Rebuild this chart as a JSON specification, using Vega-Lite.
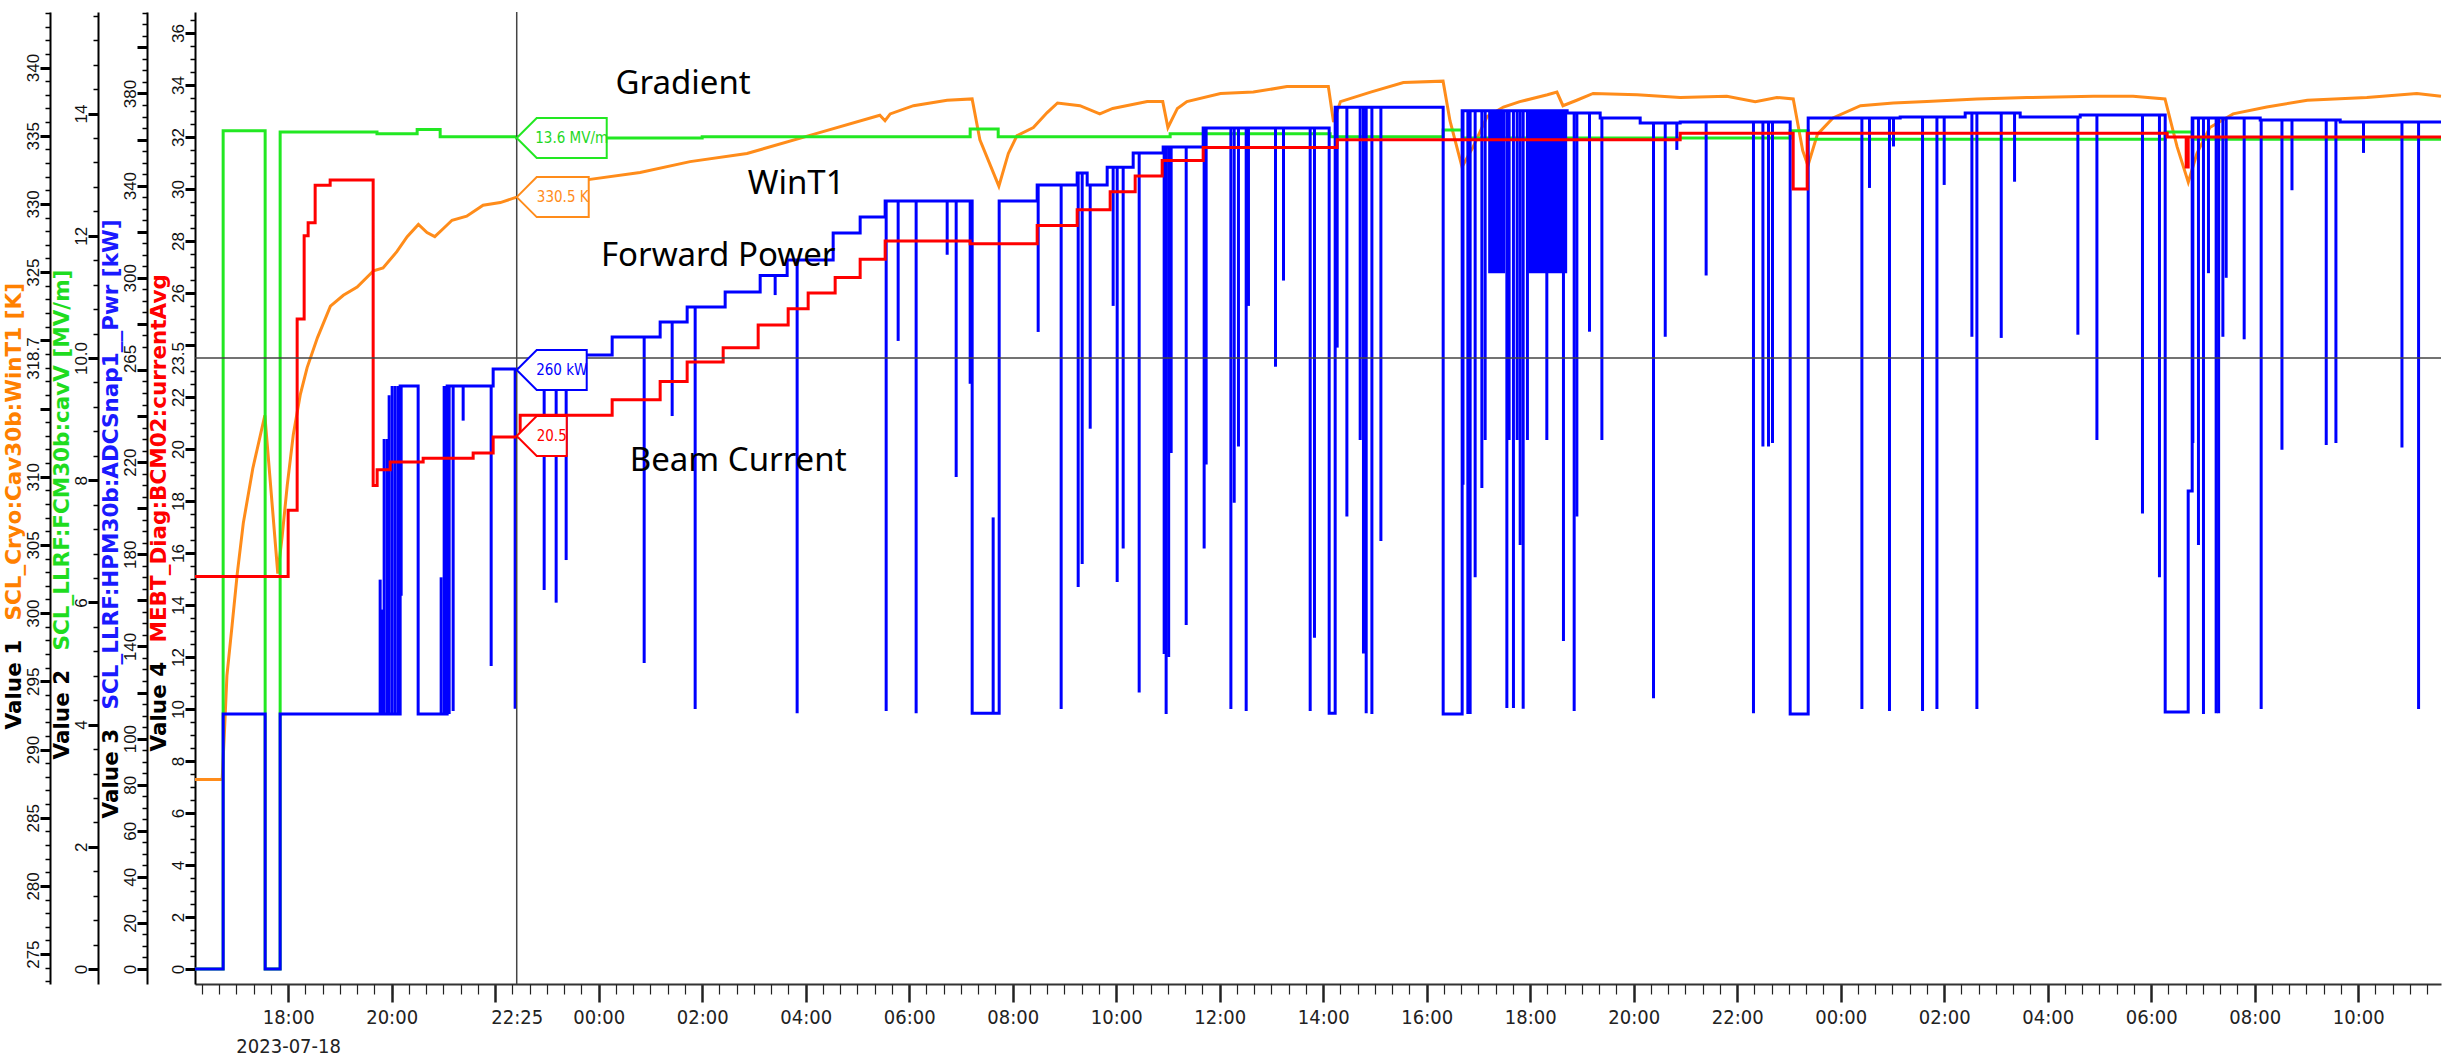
{
"$schema": "https://vega.github.io/schema/vega-lite/v6.json",
"width": 2246, "height": 972,
"autosize": {"type": "none"},
"padding": {"left": 195, "top": 12, "right": 17, "bottom": 76},
"background": "white",
"config": {
 "view": {"stroke": null},
 "axis": {"grid": false, "labelFont": "Liberation Sans", "labelFontSize": 17, "labelColor": "#111", "titleFont": "DejaVu Sans", "titleFontSize": 21.5, "titleFontWeight": "bold", "domainColor": "#000", "domainWidth": 2, "tickColor": "#000", "labelOverlap": false, "labelFlush": false}
},
"datasets": {
 "wint1": [
{"t":"2023-07-18T16:12:00Z","v":287.8},{"t":"2023-07-18T16:43:30Z","v":287.8},{"t":"2023-07-18T16:46:00Z","v":291.1},{"t":"2023-07-18T16:49:00Z","v":295.4},{"t":"2023-07-18T16:55:00Z","v":299.1},{"t":"2023-07-18T17:01:00Z","v":302.9},{"t":"2023-07-18T17:08:00Z","v":306.6},{"t":"2023-07-18T17:19:00Z","v":310.6},{"t":"2023-07-18T17:33:00Z","v":314.5},{"t":"2023-07-18T17:48:00Z","v":302.9},{"t":"2023-07-18T17:53:00Z","v":305.6},{"t":"2023-07-18T17:59:00Z","v":309.4},{"t":"2023-07-18T18:06:00Z","v":313.1},{"t":"2023-07-18T18:14:00Z","v":316.0},{"t":"2023-07-18T18:22:00Z","v":318.0},{"t":"2023-07-18T18:34:00Z","v":320.2},{"t":"2023-07-18T18:49:00Z","v":322.5},{"t":"2023-07-18T19:04:00Z","v":323.3},{"t":"2023-07-18T19:20:00Z","v":323.9},{"t":"2023-07-18T19:39:00Z","v":325.1},{"t":"2023-07-18T19:50:00Z","v":325.3},{"t":"2023-07-18T20:06:00Z","v":326.5},{"t":"2023-07-18T20:18:00Z","v":327.6},{"t":"2023-07-18T20:31:00Z","v":328.5},{"t":"2023-07-18T20:41:00Z","v":327.9},{"t":"2023-07-18T20:50:00Z","v":327.6},{"t":"2023-07-18T21:00:00Z","v":328.2},{"t":"2023-07-18T21:10:00Z","v":328.8},{"t":"2023-07-18T21:27:00Z","v":329.1},{"t":"2023-07-18T21:46:00Z","v":329.9},{"t":"2023-07-18T22:06:00Z","v":330.1},{"t":"2023-07-18T22:25:00Z","v":330.5},{"t":"2023-07-18T23:50:00Z","v":331.8},{"t":"2023-07-19T00:48:00Z","v":332.3},{"t":"2023-07-19T01:46:00Z","v":333.1},{"t":"2023-07-19T02:52:00Z","v":333.7},{"t":"2023-07-19T04:09:00Z","v":335.1},{"t":"2023-07-19T05:26:00Z","v":336.5},{"t":"2023-07-19T05:32:00Z","v":336.1},{"t":"2023-07-19T05:38:00Z","v":336.6},{"t":"2023-07-19T06:05:00Z","v":337.2},{"t":"2023-07-19T06:44:00Z","v":337.6},{"t":"2023-07-19T07:13:00Z","v":337.7},{"t":"2023-07-19T07:22:00Z","v":334.7},{"t":"2023-07-19T07:44:00Z","v":331.3},{"t":"2023-07-19T07:55:00Z","v":333.7},{"t":"2023-07-19T08:05:00Z","v":335.0},{"t":"2023-07-19T08:24:00Z","v":335.6},{"t":"2023-07-19T08:40:00Z","v":336.7},{"t":"2023-07-19T08:52:00Z","v":337.4},{"t":"2023-07-19T09:18:00Z","v":337.2},{"t":"2023-07-19T09:41:00Z","v":336.6},{"t":"2023-07-19T09:56:00Z","v":337.0},{"t":"2023-07-19T10:36:00Z","v":337.5},{"t":"2023-07-19T10:54:00Z","v":337.5},{"t":"2023-07-19T11:00:00Z","v":335.6},{"t":"2023-07-19T11:11:00Z","v":337.0},{"t":"2023-07-19T11:22:00Z","v":337.5},{"t":"2023-07-19T12:01:00Z","v":338.1},{"t":"2023-07-19T12:39:00Z","v":338.2},{"t":"2023-07-19T13:18:00Z","v":338.6},{"t":"2023-07-19T14:06:00Z","v":338.6},{"t":"2023-07-19T14:12:00Z","v":336.0},{"t":"2023-07-19T14:20:00Z","v":337.5},{"t":"2023-07-19T14:55:00Z","v":338.2},{"t":"2023-07-19T15:33:00Z","v":338.9},{"t":"2023-07-19T16:19:00Z","v":339.0},{"t":"2023-07-19T16:27:00Z","v":336.1},{"t":"2023-07-19T16:41:00Z","v":332.7},{"t":"2023-07-19T16:54:00Z","v":334.2},{"t":"2023-07-19T17:10:00Z","v":336.4},{"t":"2023-07-19T17:29:00Z","v":337.1},{"t":"2023-07-19T17:48:00Z","v":337.5},{"t":"2023-07-19T18:20:00Z","v":338.0},{"t":"2023-07-19T18:31:00Z","v":338.2},{"t":"2023-07-19T18:38:00Z","v":337.2},{"t":"2023-07-19T18:54:00Z","v":337.6},{"t":"2023-07-19T19:13:00Z","v":338.1},{"t":"2023-07-19T20:04:00Z","v":338.0},{"t":"2023-07-19T20:54:00Z","v":337.8},{"t":"2023-07-19T21:48:00Z","v":337.9},{"t":"2023-07-19T22:21:00Z","v":337.5},{"t":"2023-07-19T22:46:00Z","v":337.8},{"t":"2023-07-19T23:05:00Z","v":337.7},{"t":"2023-07-19T23:16:00Z","v":333.9},{"t":"2023-07-19T23:22:00Z","v":332.8},{"t":"2023-07-19T23:33:00Z","v":335.1},{"t":"2023-07-19T23:51:00Z","v":336.3},{"t":"2023-07-20T00:23:00Z","v":337.2},{"t":"2023-07-20T01:01:00Z","v":337.4},{"t":"2023-07-20T01:40:00Z","v":337.5},{"t":"2023-07-20T02:38:00Z","v":337.7},{"t":"2023-07-20T03:36:00Z","v":337.8},{"t":"2023-07-20T04:53:00Z","v":337.9},{"t":"2023-07-20T05:39:00Z","v":337.9},{"t":"2023-07-20T06:16:00Z","v":337.7},{"t":"2023-07-20T06:30:00Z","v":334.2},{"t":"2023-07-20T06:43:00Z","v":331.6},{"t":"2023-07-20T06:53:00Z","v":333.7},{"t":"2023-07-20T07:08:00Z","v":335.6},{"t":"2023-07-20T07:35:00Z","v":336.6},{"t":"2023-07-20T08:14:00Z","v":337.1},{"t":"2023-07-20T09:01:00Z","v":337.6},{"t":"2023-07-20T10:10:00Z","v":337.8},{"t":"2023-07-20T11:08:00Z","v":338.1},{"t":"2023-07-20T11:36:00Z","v":337.9}
 ],
 "cavv": [
{"t":"2023-07-18T16:12:00Z","v":0},{"t":"2023-07-18T16:44:38Z","v":13.72},{"t":"2023-07-18T17:33:20Z","v":0},{"t":"2023-07-18T17:50:43Z","v":13.7},{"t":"2023-07-18T19:43:00Z","v":13.67},{"t":"2023-07-18T20:29:34Z","v":13.74},{"t":"2023-07-18T20:56:14Z","v":13.62},{"t":"2023-07-18T22:25:00Z","v":13.6},{"t":"2023-07-19T02:00:00Z","v":13.62},{"t":"2023-07-19T07:10:43Z","v":13.75},{"t":"2023-07-19T07:43:13Z","v":13.62},{"t":"2023-07-19T11:02:34Z","v":13.67},{"t":"2023-07-19T14:08:06Z","v":13.62},{"t":"2023-07-19T16:19:07Z","v":13.73},{"t":"2023-07-19T16:41:09Z","v":13.6},{"t":"2023-07-19T23:01:26Z","v":13.72},{"t":"2023-07-19T23:22:19Z","v":13.58},{"t":"2023-07-20T06:16:14Z","v":13.7},{"t":"2023-07-20T06:47:32Z","v":13.58},{"t":"2023-07-20T11:36:00Z","v":13.58}
 ],
 "pwr": [
{"t":"2023-07-18T16:12:00Z","v":0},{"t":"2023-07-18T16:44:38Z","v":110.7},{"t":"2023-07-18T17:33:20Z","v":0},{"t":"2023-07-18T17:50:43Z","v":110.7},{"t":"2023-07-18T20:09:51Z","v":253},{"t":"2023-07-18T20:30:43Z","v":110.7},{"t":"2023-07-18T21:04:21Z","v":253},{"t":"2023-07-18T21:57:41Z","v":260.4},{"t":"2023-07-18T23:15:22Z","v":266.5},{"t":"2023-07-19T00:15:39Z","v":274.3},{"t":"2023-07-19T01:11:18Z","v":280.8},{"t":"2023-07-19T01:42:36Z","v":287.3},{"t":"2023-07-19T02:26:40Z","v":293.8},{"t":"2023-07-19T03:07:15Z","v":301},{"t":"2023-07-19T03:38:33Z","v":307.7},{"t":"2023-07-19T04:31:53Z","v":319.4},{"t":"2023-07-19T05:03:11Z","v":326.4},{"t":"2023-07-19T05:32:10Z","v":333.3},{"t":"2023-07-19T07:13:02Z","v":111},{"t":"2023-07-19T07:44:21Z","v":333.3},{"t":"2023-07-19T08:28:25Z","v":340.3},{"t":"2023-07-19T09:14:47Z","v":345.5},{"t":"2023-07-19T09:26:23Z","v":340.3},{"t":"2023-07-19T09:49:34Z","v":348},{"t":"2023-07-19T10:19:43Z","v":354.2},{"t":"2023-07-19T10:54:29Z","v":356.8},{"t":"2023-07-19T11:40:52Z","v":365},{"t":"2023-07-19T14:06:57Z","v":111},{"t":"2023-07-19T14:13:55Z","v":374},{"t":"2023-07-19T16:19:07Z","v":110.7},{"t":"2023-07-19T16:41:09Z","v":372.5},{"t":"2023-07-19T18:42:53Z","v":371.5},{"t":"2023-07-19T19:21:09Z","v":369.4},{"t":"2023-07-19T20:07:32Z","v":367.2},{"t":"2023-07-19T20:53:55Z","v":367.6},{"t":"2023-07-19T23:01:26Z","v":110.7},{"t":"2023-07-19T23:22:19Z","v":369.4},{"t":"2023-07-20T01:08:59Z","v":369.8},{"t":"2023-07-20T02:24:21Z","v":371.5},{"t":"2023-07-20T03:28:07Z","v":369.8},{"t":"2023-07-20T04:37:41Z","v":370.7},{"t":"2023-07-20T06:16:14Z","v":111.5},{"t":"2023-07-20T06:42:54Z","v":207.5},{"t":"2023-07-20T06:47:32Z","v":369.4},{"t":"2023-07-20T08:06:23Z","v":368.5},{"t":"2023-07-20T09:39:08Z","v":367.6},{"t":"2023-07-20T11:36:00Z","v":367.6}
 ],
 "pwr_spikes": [
{"t":"2023-07-18T19:46:40Z","top":110.7,"bottom":169},{"t":"2023-07-18T19:49:00Z","top":110.7,"bottom":156},{"t":"2023-07-18T19:51:18Z","top":110.7,"bottom":230},{"t":"2023-07-18T19:54:47Z","top":110.7,"bottom":230},{"t":"2023-07-18T19:57:06Z","top":110.7,"bottom":249},{"t":"2023-07-18T20:00:35Z","top":110.7,"bottom":253},{"t":"2023-07-18T20:04:04Z","top":110.7,"bottom":253},{"t":"2023-07-18T20:07:32Z","top":110.7,"bottom":253},{"t":"2023-07-18T20:11:01Z","top":253,"bottom":162},{"t":"2023-07-18T20:57:23Z","top":110.7,"bottom":170},{"t":"2023-07-18T21:00:52Z","top":110.7,"bottom":253},{"t":"2023-07-18T21:03:11Z","top":110.7,"bottom":253},{"t":"2023-07-18T21:06:40Z","top":253,"bottom":110.7},{"t":"2023-07-18T21:11:18Z","top":253,"bottom":112},{"t":"2023-07-18T21:22:54Z","top":253,"bottom":238},{"t":"2023-07-18T21:55:22Z","top":253,"bottom":131.5},{"t":"2023-07-18T22:23:11Z","top":260.4,"bottom":113},{"t":"2023-07-18T22:56:49Z","top":260.4,"bottom":164.5},{"t":"2023-07-18T23:10:43Z","top":260.4,"bottom":159},{"t":"2023-07-18T23:22:19Z","top":266.5,"bottom":177.5},{"t":"2023-07-19T00:52:46Z","top":274.3,"bottom":132.8},{"t":"2023-07-19T01:25:13Z","top":280.8,"bottom":240},{"t":"2023-07-19T01:51:53Z","top":287.3,"bottom":112.8},{"t":"2023-07-19T03:24:38Z","top":301,"bottom":292.5},{"t":"2023-07-19T03:50:07Z","top":307.7,"bottom":111},{"t":"2023-07-19T05:33:20Z","top":333.3,"bottom":112},{"t":"2023-07-19T05:47:14Z","top":333.3,"bottom":272.6},{"t":"2023-07-19T06:08:05Z","top":333.3,"bottom":111},{"t":"2023-07-19T06:44:04Z","top":333.3,"bottom":310},{"t":"2023-07-19T06:54:30Z","top":333.3,"bottom":213.5},{"t":"2023-07-19T07:10:43Z","top":333.3,"bottom":254},{"t":"2023-07-19T07:37:23Z","top":111,"bottom":196},{"t":"2023-07-19T08:29:34Z","top":340.3,"bottom":276.5},{"t":"2023-07-19T08:56:13Z","top":340.3,"bottom":112.8},{"t":"2023-07-19T09:15:58Z","top":345.5,"bottom":165.8},{"t":"2023-07-19T09:20:36Z","top":345.5,"bottom":175.8},{"t":"2023-07-19T09:29:53Z","top":340.3,"bottom":234.5},{"t":"2023-07-19T09:56:30Z","top":348,"bottom":287.8},{"t":"2023-07-19T10:01:10Z","top":348,"bottom":168},{"t":"2023-07-19T10:08:07Z","top":348,"bottom":182.5},{"t":"2023-07-19T10:26:40Z","top":354.2,"bottom":120},{"t":"2023-07-19T10:55:38Z","top":356.8,"bottom":136.7},{"t":"2023-07-19T10:57:56Z","top":356.8,"bottom":110.7},{"t":"2023-07-19T11:00:52Z","top":356.8,"bottom":135.4},{"t":"2023-07-19T11:03:45Z","top":356.8,"bottom":224},{"t":"2023-07-19T11:21:11Z","top":356.8,"bottom":149.3},{"t":"2023-07-19T11:42:00Z","top":365,"bottom":182.5},{"t":"2023-07-19T11:44:19Z","top":365,"bottom":219},{"t":"2023-07-19T12:13:00Z","top":365,"bottom":112.8},{"t":"2023-07-19T12:16:50Z","top":365,"bottom":202.4},{"t":"2023-07-19T12:21:48Z","top":365,"bottom":226.8},{"t":"2023-07-19T12:30:44Z","top":365,"bottom":112},{"t":"2023-07-19T12:33:23Z","top":365,"bottom":287.8},{"t":"2023-07-19T13:04:42Z","top":365,"bottom":261.4},{"t":"2023-07-19T13:14:00Z","top":365,"bottom":298.8},{"t":"2023-07-19T13:44:56Z","top":365,"bottom":112},{"t":"2023-07-19T13:49:55Z","top":365,"bottom":143.8},{"t":"2023-07-19T14:16:14Z","top":374,"bottom":269.7},{"t":"2023-07-19T14:27:29Z","top":374,"bottom":196.4},{"t":"2023-07-19T14:42:54Z","top":374,"bottom":229.6},{"t":"2023-07-19T14:46:44Z","top":374,"bottom":136.9},{"t":"2023-07-19T14:49:52Z","top":374,"bottom":111},{"t":"2023-07-19T14:56:29Z","top":374,"bottom":110.7},{"t":"2023-07-19T15:06:55Z","top":374,"bottom":185.8},{"t":"2023-07-19T16:42:07Z","top":372.5,"bottom":210.2},{"t":"2023-07-19T16:47:44Z","top":372.5,"bottom":110.7},{"t":"2023-07-19T16:50:23Z","top":372.5,"bottom":110.7},{"t":"2023-07-19T16:56:12Z","top":372.5,"bottom":170},{"t":"2023-07-19T17:03:59Z","top":372.5,"bottom":208.8},{"t":"2023-07-19T17:07:48Z","top":372.5,"bottom":229.6},{"t":"2023-07-19T17:32:58Z","top":372.5,"bottom":113.3},{"t":"2023-07-19T17:35:36Z","top":372.5,"bottom":229.6},{"t":"2023-07-19T17:40:36Z","top":372.5,"bottom":113.3},{"t":"2023-07-19T17:44:55Z","top":372.5,"bottom":229.6},{"t":"2023-07-19T17:48:24Z","top":372.5,"bottom":184},{"t":"2023-07-19T17:51:53Z","top":372.5,"bottom":113},{"t":"2023-07-19T17:56:48Z","top":372.5,"bottom":229.6},{"t":"2023-07-19T18:19:18Z","top":372.5,"bottom":229.6},{"t":"2023-07-19T18:38:35Z","top":372.5,"bottom":142.4},{"t":"2023-07-19T18:51:00Z","top":371.5,"bottom":112},{"t":"2023-07-19T18:54:08Z","top":371.5,"bottom":196.4},{"t":"2023-07-19T19:08:46Z","top":371.5,"bottom":276.6},{"t":"2023-07-19T19:23:08Z","top":369.4,"bottom":229.6},{"t":"2023-07-19T20:22:59Z","top":367.2,"bottom":117.5},{"t":"2023-07-19T20:36:35Z","top":367.2,"bottom":274.4},{"t":"2023-07-19T20:50:01Z","top":367.2,"bottom":355.5},{"t":"2023-07-19T21:24:00Z","top":367.6,"bottom":301},{"t":"2023-07-19T22:18:53Z","top":367.6,"bottom":111},{"t":"2023-07-19T22:29:50Z","top":367.6,"bottom":226.8},{"t":"2023-07-19T22:36:18Z","top":367.6,"bottom":226.8},{"t":"2023-07-19T22:40:56Z","top":367.6,"bottom":228.3},{"t":"2023-07-20T00:24:35Z","top":369.4,"bottom":112.8},{"t":"2023-07-20T00:33:24Z","top":369.4,"bottom":339},{"t":"2023-07-20T00:56:35Z","top":369.4,"bottom":112},{"t":"2023-07-20T01:01:13Z","top":369.4,"bottom":357},{"t":"2023-07-20T01:34:53Z","top":369.8,"bottom":112},{"t":"2023-07-20T01:51:35Z","top":369.8,"bottom":112.8},{"t":"2023-07-20T02:00:00Z","top":369.8,"bottom":340.3},{"t":"2023-07-20T02:32:07Z","top":371.5,"bottom":274.4},{"t":"2023-07-20T02:37:55Z","top":371.5,"bottom":112.8},{"t":"2023-07-20T03:06:08Z","top":371.5,"bottom":273.9},{"t":"2023-07-20T03:21:35Z","top":371.5,"bottom":341.7},{"t":"2023-07-20T04:35:00Z","top":369.8,"bottom":275.3},{"t":"2023-07-20T04:57:04Z","top":370.7,"bottom":229.6},{"t":"2023-07-20T05:49:54Z","top":370.7,"bottom":197.7},{"t":"2023-07-20T06:09:35Z","top":370.7,"bottom":170},{"t":"2023-07-20T06:48:18Z","top":369.4,"bottom":228.3},{"t":"2023-07-20T06:54:48Z","top":369.4,"bottom":184},{"t":"2023-07-20T07:00:36Z","top":369.4,"bottom":110.7},{"t":"2023-07-20T07:06:24Z","top":369.4,"bottom":302},{"t":"2023-07-20T07:15:18Z","top":369.4,"bottom":111},{"t":"2023-07-20T07:18:11Z","top":369.4,"bottom":111},{"t":"2023-07-20T07:23:06Z","top":369.4,"bottom":274.4},{"t":"2023-07-20T07:26:55Z","top":369.4,"bottom":300},{"t":"2023-07-20T07:47:48Z","top":369.4,"bottom":273.3},{"t":"2023-07-20T08:07:30Z","top":368.5,"bottom":112.8},{"t":"2023-07-20T08:31:36Z","top":368.5,"bottom":225.4},{"t":"2023-07-20T08:43:13Z","top":368.5,"bottom":338},{"t":"2023-07-20T09:22:56Z","top":368.5,"bottom":227.4},{"t":"2023-07-20T09:34:10Z","top":368.5,"bottom":228.3},{"t":"2023-07-20T10:06:10Z","top":367.6,"bottom":354.2},{"t":"2023-07-20T10:50:44Z","top":367.6,"bottom":226.3},{"t":"2023-07-20T11:10:00Z","top":367.6,"bottom":112.8}
 ],
 "pwr_bands": [
{"t":"2023-07-19T17:11:18Z","t2":"2023-07-19T17:31:00Z","top":372.5,"bottom":302},
{"t":"2023-07-19T17:57:38Z","t2":"2023-07-19T18:42:53Z","top":372.5,"bottom":302}
 ],
 "bcm": [
{"t":"2023-07-18T16:12:00Z","v":15.1},{"t":"2023-07-18T18:00:00Z","v":17.65},{"t":"2023-07-18T18:10:26Z","v":25.0},{"t":"2023-07-18T18:18:33Z","v":28.2},{"t":"2023-07-18T18:23:11Z","v":28.7},{"t":"2023-07-18T18:31:18Z","v":30.15},{"t":"2023-07-18T18:48:42Z","v":30.35},{"t":"2023-07-18T19:38:33Z","v":18.6},{"t":"2023-07-18T19:43:11Z","v":19.2},{"t":"2023-07-18T19:58:16Z","v":19.5},{"t":"2023-07-18T20:36:31Z","v":19.65},{"t":"2023-07-18T21:34:29Z","v":19.85},{"t":"2023-07-18T21:57:41Z","v":20.46},{"t":"2023-07-18T22:28:59Z","v":21.3},{"t":"2023-07-19T00:15:39Z","v":21.9},{"t":"2023-07-19T01:11:18Z","v":22.6},{"t":"2023-07-19T01:42:36Z","v":23.35},{"t":"2023-07-19T02:24:21Z","v":23.9},{"t":"2023-07-19T03:04:56Z","v":24.77},{"t":"2023-07-19T03:39:43Z","v":25.4},{"t":"2023-07-19T04:02:54Z","v":26.0},{"t":"2023-07-19T04:34:12Z","v":26.6},{"t":"2023-07-19T05:03:11Z","v":27.3},{"t":"2023-07-19T05:32:10Z","v":28.0},{"t":"2023-07-19T07:10:43Z","v":27.9},{"t":"2023-07-19T08:28:25Z","v":28.6},{"t":"2023-07-19T09:14:47Z","v":29.2},{"t":"2023-07-19T09:53:02Z","v":29.9},{"t":"2023-07-19T10:22:02Z","v":30.5},{"t":"2023-07-19T10:53:20Z","v":31.1},{"t":"2023-07-19T11:40:52Z","v":31.6},{"t":"2023-07-19T14:16:14Z","v":31.9},{"t":"2023-07-19T20:53:55Z","v":32.15},{"t":"2023-07-19T23:04:56Z","v":30.0},{"t":"2023-07-19T23:21:10Z","v":32.15},{"t":"2023-07-20T06:18:33Z","v":32.0},{"t":"2023-07-20T06:40:35Z","v":30.85},{"t":"2023-07-20T06:42:54Z","v":32.0},{"t":"2023-07-20T11:36:00Z","v":32.0}
 ],
 "notes": [
{"t":"2023-07-19T01:37:58Z","v":34.04,"text":"Gradient"},
{"t":"2023-07-19T03:48:59Z","v":30.19,"text":"WinT1"},
{"t":"2023-07-19T02:18:32Z","v":27.42,"text":"Forward Power"},
{"t":"2023-07-19T02:41:44Z","v":19.54,"text":"Beam Current"}
 ],
 "cursor": [{"t":"2023-07-18T22:25:00Z","k":318.7}],
 "readout": [{"t":"2023-07-18T22:25:00Z","wint1":330.5,"wint1_label":"330.5 K","cavv":13.6,"cavv_label":"13.6 MV/m","pwr":260,"pwr_label":"260 kW","bcm":20.5,"bcm_label":"20.5"}]
},
"resolve": {"scale": {"y": "independent", "x": "independent"}},
"layer": [
 {"data": {"name": "wint1"},
  "mark": {"type": "line", "color": "#ff8c1a", "strokeWidth": 3},
  "encoding": {
   "x": {"field": "t", "type": "temporal", "scale": {"type": "utc", "domain": [1689696720000, 1689852960000], "nice": false},
    "axis": {"orient": "bottom", "title": null, "domainColor": "#333", "domainWidth": 2, "tickColor": "#222", "tickSize": 18, "tickWidth": 2.5,
     "values": [1689703200000,1689710400000,1689717600000,1689719100000,1689724800000,1689732000000,1689739200000,1689746400000,1689753600000,1689760800000,1689768000000,1689775200000,1689782400000,1689789600000,1689796800000,1689804000000,1689811200000,1689818400000,1689825600000,1689832800000,1689840000000,1689847200000],
     "tickOpacity": {"condition": {"test": "time(datum.value) == 1689719100000", "value": 0}, "value": 1},
     "labelExpr": "time(datum.value) == 1689719100000 ? '22:25' : (time(datum.value) == 1689717600000 ? '' : (time(datum.value) == 1689703200000 ? ['18:00', '2023-07-18'] : utcFormat(datum.value, '%H:%M')))",
     "labelFont": "Liberation Sans Narrow, DejaVu Sans Condensed, Liberation Sans", "labelFontSize": 20, "labelColor": "#222",
     "labelPadding": 5, "labelLineHeight": 29, "labelAngle": 0, "labelAlign": "center", "labelBaseline": "top"}},
   "y": {"field": "v", "type": "quantitative", "scale": {"domain": [272.81, 344.07], "nice": false, "zero": false},
    "axis": {"orient": "left", "offset": 145, "title": "SCL_Cryo:Cav30b:WinT1 [K]", "titleColor": "#ff8000", "titleX": -36, "titleY": 608, "titleAlign": "left", "titleAngle": -90, "titleBaseline": "middle",
     "values": [275,280,285,290,295,300,305,310,315,318.7,320,325,330,335,340],
     "labelExpr": "datum.value == 318.7 ? '318.7' : ((datum.value != 315 && datum.value != 320) ? format(datum.value, 'd') : '')",
     "labelAngle": -90, "labelAlign": "center", "labelBaseline": "bottom", "labelPadding": -2,
     "tickSize": 10, "tickWidth": 3,
     "tickOpacity": {"condition": {"test": "datum.value == 318.7", "value": 0}, "value": 1}}}
  }},
 {"data": {"name": "wint1"}, "mark": {"type": "line", "opacity": 0},
  "encoding": {"x": {"field": "t", "type": "temporal", "scale": {"type": "utc", "domain": [1689696720000, 1689852960000], "nice": false},
    "axis": {"orient": "bottom", "title": null, "domain": false, "labels": false, "tickColor": "#222", "tickSize": 10, "tickWidth": 1.2,
     "values": [1689697200000,1689698400000,1689699600000,1689700800000,1689702000000,1689704400000,1689705600000,1689706800000,1689708000000,1689709200000,1689710400000,1689711600000,1689712800000,1689714000000,1689715200000,1689716400000,1689718800000,1689720000000,1689721200000,1689722400000,1689723600000,1689726000000,1689727200000,1689728400000,1689729600000,1689730800000,1689733200000,1689734400000,1689735600000,1689736800000,1689738000000,1689740400000,1689741600000,1689742800000,1689744000000,1689745200000,1689747600000,1689748800000,1689750000000,1689751200000,1689752400000,1689754800000,1689756000000,1689757200000,1689758400000,1689759600000,1689762000000,1689763200000,1689764400000,1689765600000,1689766800000,1689769200000,1689770400000,1689771600000,1689772800000,1689774000000,1689776400000,1689777600000,1689778800000,1689780000000,1689781200000,1689783600000,1689784800000,1689786000000,1689787200000,1689788400000,1689790800000,1689792000000,1689793200000,1689794400000,1689795600000,1689798000000,1689799200000,1689800400000,1689801600000,1689802800000,1689805200000,1689806400000,1689807600000,1689808800000,1689810000000,1689812400000,1689813600000,1689814800000,1689816000000,1689817200000,1689819600000,1689820800000,1689822000000,1689823200000,1689824400000,1689826800000,1689828000000,1689829200000,1689830400000,1689831600000,1689834000000,1689835200000,1689836400000,1689837600000,1689838800000,1689841200000,1689842400000,1689843600000,1689844800000,1689846000000,1689848400000,1689849600000,1689850800000,1689852000000]}},
   "y": {"field": "v", "type": "quantitative", "scale": {"domain": [272.81, 344.07], "nice": false, "zero": false},
    "axis": {"orient": "left", "offset": 145, "domain": false, "labels": false, "tickSize": 5, "tickWidth": 1.5,
     "values": [273,274,276,277,278,279,281,282,283,284,286,287,288,289,291,292,293,294,296,297,298,299,301,302,303,304,306,307,308,309,311,312,313,314,316,317,318,319,321,322,323,324,326,327,328,329,331,332,333,334,336,337,338,339,341,342,343,344],
     "title": "Value 1", "titleColor": "#000", "titleX": -36, "titleY": 717, "titleAlign": "left", "titleAngle": -90, "titleBaseline": "middle"}}}},
 {"data": {"name": "cavv"},
  "mark": {"type": "line", "color": "#22e822", "strokeWidth": 3, "interpolate": "step-after"},
  "encoding": {
   "x": {"field": "t", "type": "temporal", "scale": {"type": "utc", "domain": [1689696720000, 1689852960000], "nice": false}, "axis": null},
   "y": {"field": "v", "type": "quantitative", "scale": {"domain": [-0.245, 15.663], "nice": false, "zero": false},
    "axis": {"orient": "left", "offset": 97, "title": "SCL_LLRF:FCM30b:cavV [MV/m]", "titleColor": "#1fdc1f", "titleX": -36, "titleY": 638, "titleAlign": "left", "titleAngle": -90, "titleBaseline": "middle",
     "values": [0,2,4,6,8,10,12,14],
     "labelExpr": "datum.value == 10 ? '10.0' : format(datum.value, 'd')",
     "labelAngle": -90, "labelAlign": "center", "labelBaseline": "bottom", "labelPadding": -2,
     "tickSize": 10, "tickWidth": 3}}
  }},
 {"data": {"name": "cavv"}, "mark": {"type": "line", "opacity": 0},
  "encoding": {"x": {"field": "t", "type": "temporal", "scale": {"type": "utc", "domain": [1689696720000, 1689852960000], "nice": false}, "axis": null},
   "y": {"field": "v", "type": "quantitative", "scale": {"domain": [-0.245, 15.663], "nice": false, "zero": false},
    "axis": {"orient": "left", "offset": 97, "domain": false, "labels": false, "tickSize": 5, "tickWidth": 1.5,
     "values": [0.4,0.8,1.2,1.6,2.4,2.8,3.2,3.6,4.4,4.8,5.2,5.6,6.4,6.8,7.2,7.6,8.4,8.8,9.2,9.6,10.4,10.8,11.2,11.6,12.4,12.8,13.2,13.6,14.4,14.8,15.2,15.6],
     "title": "Value 2", "titleColor": "#000", "titleX": -36, "titleY": 747, "titleAlign": "left", "titleAngle": -90, "titleBaseline": "middle"}}}},
 {"data": {"name": "pwr"},
  "mark": {"type": "line", "color": "#0000ff", "strokeWidth": 3, "interpolate": "step-after"},
  "encoding": {
   "x": {"field": "t", "type": "temporal", "scale": {"type": "utc", "domain": [1689696720000, 1689852960000], "nice": false}, "axis": null},
   "y": {"field": "v", "type": "quantitative", "scale": {"domain": [-6.51, 415.36], "nice": false, "zero": false},
    "axis": {"orient": "left", "offset": 48, "title": "SCL_LLRF:HPM30b:ADCSnap1__Pwr [kW]", "titleColor": "#1a1aff", "titleX": -36, "titleY": 697, "titleAlign": "left", "titleAngle": -90, "titleBaseline": "middle",
     "values": [0,20,40,60,80,100,120,140,160,180,200,220,240,260,265,280,300,320,340,360,380,400],
     "labelExpr": "datum.value == 265 ? '265' : (indexof([0,20,40,60,80,100,140,180,220,300,340,380], datum.value) >= 0 ? format(datum.value, 'd') : '')",
     "labelAngle": -90, "labelAlign": "center", "labelBaseline": "bottom", "labelPadding": -2,
     "tickSize": 10, "tickWidth": 3,
     "tickOpacity": {"condition": {"test": "datum.value == 265", "value": 0}, "value": 1}}}
  }},
 {"data": {"name": "pwr"}, "mark": {"type": "line", "opacity": 0},
  "encoding": {"x": {"field": "t", "type": "temporal", "scale": {"type": "utc", "domain": [1689696720000, 1689852960000], "nice": false}, "axis": null},
   "y": {"field": "v", "type": "quantitative", "scale": {"domain": [-6.51, 415.36], "nice": false, "zero": false},
    "axis": {"orient": "left", "offset": 48, "domain": false, "labels": false, "tickSize": 5, "tickWidth": 1.5,
     "values": [5,10,15,25,30,35,45,50,55,65,70,75,85,90,95,105,110,115,125,130,135,145,150,155,165,170,175,185,190,195,205,210,215,225,230,235,245,250,255,270,275,285,290,295,305,310,315,325,330,335,345,350,355,365,370,375,385,390,395,405,410,415],
     "title": "Value 3", "titleColor": "#000", "titleX": -36, "titleY": 806, "titleAlign": "left", "titleAngle": -90, "titleBaseline": "middle"}}}},
 {"data": {"name": "pwr_spikes"},
  "mark": {"type": "rule", "color": "#0000ff", "strokeWidth": 3},
  "encoding": {"x": {"field": "t", "type": "temporal", "scale": {"type": "utc", "domain": [1689696720000, 1689852960000], "nice": false}, "axis": null},
   "y": {"field": "top", "type": "quantitative", "scale": {"domain": [-6.51, 415.36], "nice": false, "zero": false}, "axis": null}, "y2": {"field": "bottom"}}},
 {"data": {"name": "pwr_bands"},
  "mark": {"type": "rect", "color": "#0000ff"},
  "encoding": {"x": {"field": "t", "type": "temporal", "scale": {"type": "utc", "domain": [1689696720000, 1689852960000], "nice": false}, "axis": null},
   "x2": {"field": "t2"},
   "y": {"field": "top", "type": "quantitative", "scale": {"domain": [-6.51, 415.36], "nice": false, "zero": false}, "axis": null}, "y2": {"field": "bottom"}}},
 {"data": {"name": "bcm"},
  "mark": {"type": "line", "color": "#ff0000", "strokeWidth": 3, "interpolate": "step-after"},
  "encoding": {
   "x": {"field": "t", "type": "temporal", "scale": {"type": "utc", "domain": [1689696720000, 1689852960000], "nice": false}, "axis": null},
   "y": {"field": "v", "type": "quantitative", "scale": {"domain": [-0.577, 36.81], "nice": false, "zero": false},
    "axis": {"orient": "left", "offset": 0, "title": "MEBT_Diag:BCM02:currentAvg", "titleColor": "#ff0000", "titleX": -36, "titleY": 630, "titleAlign": "left", "titleAngle": -90, "titleBaseline": "middle",
     "values": [0,2,4,6,8,10,12,14,16,18,20,22,23.5,24,26,28,30,32,34,36],
     "labelExpr": "datum.value == 23.5 ? '23.5' : (datum.value != 24 ? format(datum.value, 'd') : '')",
     "labelAngle": -90, "labelAlign": "center", "labelBaseline": "bottom", "labelPadding": -2,
     "tickSize": 10, "tickWidth": 3,
     "tickOpacity": {"condition": {"test": "datum.value == 23.5", "value": 0}, "value": 1}}}
  }},
 {"data": {"name": "bcm"}, "mark": {"type": "line", "opacity": 0},
  "encoding": {"x": {"field": "t", "type": "temporal", "scale": {"type": "utc", "domain": [1689696720000, 1689852960000], "nice": false}, "axis": null},
   "y": {"field": "v", "type": "quantitative", "scale": {"domain": [-0.577, 36.81], "nice": false, "zero": false},
    "axis": {"orient": "left", "offset": 0, "domain": false, "labels": false, "tickSize": 5, "tickWidth": 1.5,
     "values": [0.5,1,1.5,2.5,3,3.5,4.5,5,5.5,6.5,7,7.5,8.5,9,9.5,10.5,11,11.5,12.5,13,13.5,14.5,15,15.5,16.5,17,17.5,18.5,19,19.5,20.5,21,21.5,22.5,23,24.5,25,25.5,26.5,27,27.5,28.5,29,29.5,30.5,31,31.5,32.5,33,33.5,34.5,35,35.5,36.5],
     "title": "Value 4", "titleColor": "#000", "titleX": -36, "titleY": 739, "titleAlign": "left", "titleAngle": -90, "titleBaseline": "middle"}}}},
 {"data": {"name": "notes"},
  "mark": {"type": "text", "font": "Noto Sans", "fontSize": 33, "color": "#000", "align": "center", "baseline": "middle"},
  "encoding": {"x": {"field": "t", "type": "temporal", "scale": {"type": "utc", "domain": [1689696720000, 1689852960000], "nice": false}, "axis": null},
   "y": {"field": "v", "type": "quantitative", "scale": {"domain": [-0.577, 36.81], "nice": false, "zero": false}, "axis": null}, "text": {"field": "text"}}},
 {"data": {"name": "cursor"},
  "mark": {"type": "rule", "color": "#444", "strokeWidth": 1.5},
  "encoding": {"x": {"field": "t", "type": "temporal", "scale": {"type": "utc", "domain": [1689696720000, 1689852960000], "nice": false}, "axis": null}}},
 {"data": {"name": "cursor"},
  "mark": {"type": "rule", "color": "#444", "strokeWidth": 1.5},
  "encoding": {"y": {"field": "k", "type": "quantitative", "scale": {"domain": [272.81, 344.07], "nice": false, "zero": false}, "axis": null}}},
 {"data": {"name": "readout"},
  "mark": {"type": "point", "shape": "M0,0L1,-1L3.6,-1L3.6,1L1,1Z", "size": 1600, "filled": true, "fill": "white", "stroke": "#ff8c1a", "strokeWidth": 2, "opacity": 1},
  "encoding": {"x": {"field": "t", "type": "temporal", "scale": {"type": "utc", "domain": [1689696720000, 1689852960000], "nice": false}, "axis": null},
   "y": {"field": "wint1", "type": "quantitative", "scale": {"domain": [272.81, 344.07], "nice": false, "zero": false}, "axis": null}}},
 {"data": {"name": "readout"},
  "mark": {"type": "text", "dx": 46, "font": "Liberation Sans Narrow, DejaVu Sans Condensed, Liberation Sans", "fontSize": 15, "color": "#ff8c1a", "align": "center", "baseline": "middle"},
  "encoding": {"x": {"field": "t", "type": "temporal", "scale": {"type": "utc", "domain": [1689696720000, 1689852960000], "nice": false}, "axis": null},
   "y": {"field": "wint1", "type": "quantitative", "scale": {"domain": [272.81, 344.07], "nice": false, "zero": false}, "axis": null}, "text": {"field": "wint1_label"}}},
 {"data": {"name": "readout"},
  "mark": {"type": "point", "shape": "M0,0L1,-1L4.5,-1L4.5,1L1,1Z", "size": 1600, "filled": true, "fill": "white", "stroke": "#22e822", "strokeWidth": 2, "opacity": 1},
  "encoding": {"x": {"field": "t", "type": "temporal", "scale": {"type": "utc", "domain": [1689696720000, 1689852960000], "nice": false}, "axis": null},
   "y": {"field": "cavv", "type": "quantitative", "scale": {"domain": [-0.245, 15.663], "nice": false, "zero": false}, "axis": null}}},
 {"data": {"name": "readout"},
  "mark": {"type": "text", "dx": 55, "font": "Liberation Sans Narrow, DejaVu Sans Condensed, Liberation Sans", "fontSize": 15, "color": "#1fd81f", "align": "center", "baseline": "middle"},
  "encoding": {"x": {"field": "t", "type": "temporal", "scale": {"type": "utc", "domain": [1689696720000, 1689852960000], "nice": false}, "axis": null},
   "y": {"field": "cavv", "type": "quantitative", "scale": {"domain": [-0.245, 15.663], "nice": false, "zero": false}, "axis": null}, "text": {"field": "cavv_label"}}},
 {"data": {"name": "readout"},
  "mark": {"type": "point", "shape": "M0,0L1,-1L3.5,-1L3.5,1L1,1Z", "size": 1600, "filled": true, "fill": "white", "stroke": "#0000ff", "strokeWidth": 2, "opacity": 1},
  "encoding": {"x": {"field": "t", "type": "temporal", "scale": {"type": "utc", "domain": [1689696720000, 1689852960000], "nice": false}, "axis": null},
   "y": {"field": "pwr", "type": "quantitative", "scale": {"domain": [-6.51, 415.36], "nice": false, "zero": false}, "axis": null}}},
 {"data": {"name": "readout"},
  "mark": {"type": "text", "dx": 45, "font": "Liberation Sans Narrow, DejaVu Sans Condensed, Liberation Sans", "fontSize": 15, "color": "#0000ff", "align": "center", "baseline": "middle"},
  "encoding": {"x": {"field": "t", "type": "temporal", "scale": {"type": "utc", "domain": [1689696720000, 1689852960000], "nice": false}, "axis": null},
   "y": {"field": "pwr", "type": "quantitative", "scale": {"domain": [-6.51, 415.36], "nice": false, "zero": false}, "axis": null}, "text": {"field": "pwr_label"}}},
 {"data": {"name": "readout"},
  "mark": {"type": "point", "shape": "M0,0L1,-1L2.5,-1L2.5,1L1,1Z", "size": 1600, "filled": true, "fill": "white", "stroke": "#ff0000", "strokeWidth": 2, "opacity": 1},
  "encoding": {"x": {"field": "t", "type": "temporal", "scale": {"type": "utc", "domain": [1689696720000, 1689852960000], "nice": false}, "axis": null},
   "y": {"field": "bcm", "type": "quantitative", "scale": {"domain": [-0.577, 36.81], "nice": false, "zero": false}, "axis": null}}},
 {"data": {"name": "readout"},
  "mark": {"type": "text", "dx": 35, "font": "Liberation Sans Narrow, DejaVu Sans Condensed, Liberation Sans", "fontSize": 15, "color": "#ff0000", "align": "center", "baseline": "middle"},
  "encoding": {"x": {"field": "t", "type": "temporal", "scale": {"type": "utc", "domain": [1689696720000, 1689852960000], "nice": false}, "axis": null},
   "y": {"field": "bcm", "type": "quantitative", "scale": {"domain": [-0.577, 36.81], "nice": false, "zero": false}, "axis": null}, "text": {"field": "bcm_label"}}}
]
}
